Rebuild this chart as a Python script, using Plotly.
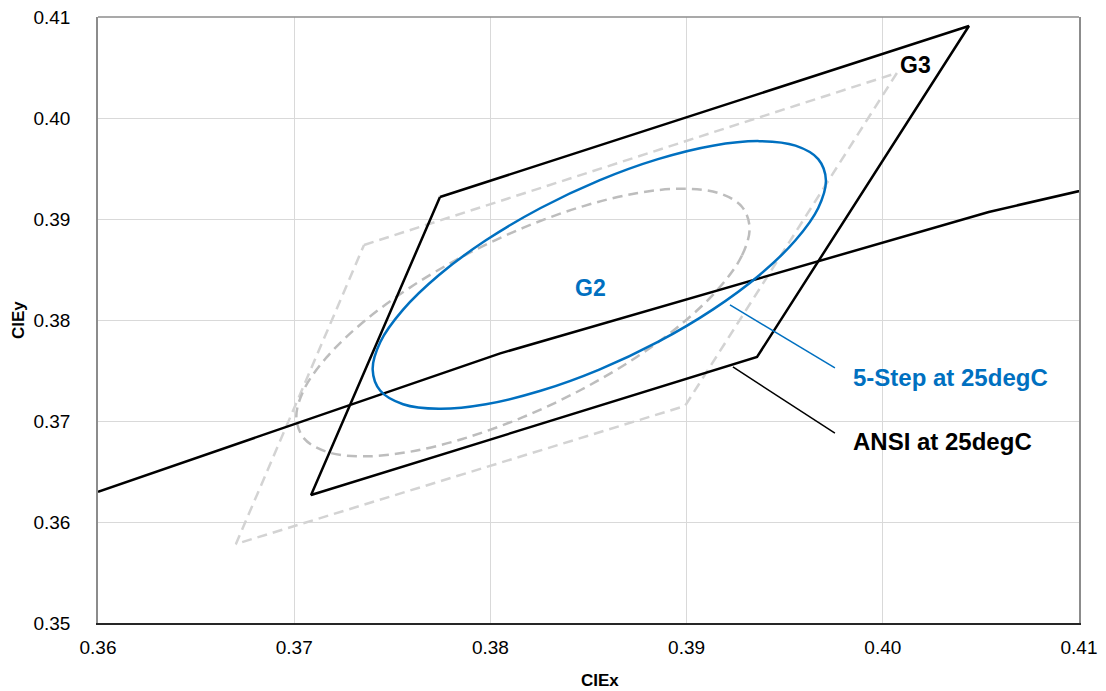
import plotly.graph_objects as go

# ---------------- data ----------------
# ANSI quadrangle at 25degC (black, solid)
ansi_x = [0.37743, 0.40439, 0.39359, 0.37086, 0.37743]
ansi_y = [0.39218, 0.40911, 0.37634, 0.36267, 0.39218]

# shifted quadrangle (light grey, dashed)
ansi_alt_x = [0.37356, 0.40072, 0.38992, 0.36703, 0.37356]
ansi_alt_y = [0.38743, 0.40446, 0.37149, 0.35782, 0.38743]

# black-body locus
locus_x = [0.3600, 0.3805, 0.4054, 0.4150]
locus_y = [0.3630, 0.3767, 0.3907, 0.3950]

# 5-step ellipse at 25degC (blue)
step5_x = [0.39710, 0.39671, 0.39555, 0.39372, 0.39133, 0.38854, 0.38555, 0.38256,
           0.37977, 0.37738, 0.37555, 0.37439, 0.37400, 0.37439, 0.37555, 0.37738,
           0.37977, 0.38256, 0.38555, 0.38854, 0.39133, 0.39372, 0.39555, 0.39671, 0.39710]
step5_y = [0.39383, 0.39109, 0.38789, 0.38446, 0.38103, 0.37783, 0.37509, 0.37299,
           0.37166, 0.37121, 0.37166, 0.37299, 0.37509, 0.37783, 0.38103, 0.38446,
           0.38789, 0.39109, 0.39383, 0.39593, 0.39726, 0.39771, 0.39726, 0.39593, 0.39383]

# shifted ellipse (grey, dashed)
step5_alt_x = [0.39321, 0.39282, 0.39166, 0.38983, 0.38744, 0.38465, 0.38166, 0.37867,
               0.37588, 0.37349, 0.37166, 0.37050, 0.37011, 0.37050, 0.37166, 0.37349,
               0.37588, 0.37867, 0.38166, 0.38465, 0.38744, 0.38983, 0.39166, 0.39282, 0.39321]
step5_alt_y = [0.38912, 0.38638, 0.38318, 0.37975, 0.37632, 0.37312, 0.37038, 0.36828,
               0.36695, 0.36650, 0.36695, 0.36828, 0.37038, 0.37312, 0.37632, 0.37975,
               0.38318, 0.38638, 0.38912, 0.39122, 0.39255, 0.39300, 0.39255, 0.39122, 0.38912]

x_ticks = [0.36, 0.37, 0.38, 0.39, 0.40, 0.41]
x_tick_labels = ["0.36", "0.37", "0.38", "0.39", "0.40", "0.41"]
y_ticks = [0.35, 0.36, 0.37, 0.38, 0.39, 0.40, 0.41]
y_tick_labels = ["0.35", "0.36", "0.37", "0.38", "0.39", "0.40", "0.41"]

# ---------------- styling ----------------
BLUE = "#0070C0"
FONT = "Liberation Sans, Arial, sans-serif"

fig = go.Figure()

fig.add_trace(go.Scatter(x=ansi_alt_x, y=ansi_alt_y, mode="lines",
                         line=dict(color="#d3d3d3", width=2.5, dash="10px,6px"),
                         hoverinfo="skip"))
fig.add_trace(go.Scatter(x=step5_alt_x, y=step5_alt_y, mode="lines",
                         line=dict(color="#bdbdbd", width=2.5, dash="10px,6px",
                                   shape="spline", smoothing=1),
                         hoverinfo="skip"))
fig.add_trace(go.Scatter(x=locus_x, y=locus_y, mode="lines",
                         line=dict(color="black", width=2.5), hoverinfo="skip"))
fig.add_trace(go.Scatter(x=ansi_x, y=ansi_y, mode="lines",
                         line=dict(color="black", width=2.5), hoverinfo="skip"))
fig.add_trace(go.Scatter(x=step5_x, y=step5_y, mode="lines",
                         line=dict(color=BLUE, width=2.5, shape="spline", smoothing=1),
                         hoverinfo="skip"))

# leader lines
fig.add_shape(type="line", xref="x", yref="y", x0=0.39221, y0=0.38149, x1=0.39756, y1=0.37525,
              line=dict(color=BLUE, width=1.5))
fig.add_shape(type="line", xref="x", yref="y", x0=0.39236, y0=0.37535, x1=0.39756, y1=0.36881,
              line=dict(color="black", width=1.5))
# top frame line (grey)
fig.add_shape(type="line", xref="paper", yref="paper", x0=0, y0=1, x1=1, y1=1,
              line=dict(color="#8c8c8c", width=1.5))

# labels
fig.add_annotation(x=0.39838, y=0.37426, text="<b>5-Step at 25degC</b>", showarrow=False,
                   xanchor="left", yanchor="middle", font=dict(family=FONT, size=24, color=BLUE))
fig.add_annotation(x=0.39838, y=0.36802, text="<b>ANSI at 25degC</b>", showarrow=False,
                   xanchor="left", yanchor="middle", font=dict(family=FONT, size=24, color="black"))
fig.add_annotation(x=0.38508, y=0.38317, text="<b>G2</b>", showarrow=False,
                   xanchor="center", yanchor="middle", font=dict(family=FONT, size=23, color=BLUE))
fig.add_annotation(x=0.40169, y=0.40525, text="<b>G3</b>", showarrow=False,
                   xanchor="center", yanchor="middle", font=dict(family=FONT, size=23, color="black"))

# axis titles
fig.add_annotation(xref="paper", yref="paper", x=0.512, y=0, yshift=-57, text="<b>CIEx</b>",
                   showarrow=False, xanchor="center", yanchor="middle",
                   font=dict(family=FONT, size=17, color="black"))
fig.add_annotation(xref="paper", yref="paper", x=0, xshift=-80, y=0.5, text="<b>CIEy</b>",
                   showarrow=False, textangle=-90, xanchor="center", yanchor="middle",
                   font=dict(family=FONT, size=17, color="black"))

fig.update_layout(
    width=1106, height=691,
    margin=dict(l=98, r=27, t=17, b=68),
    paper_bgcolor="white", plot_bgcolor="white",
    showlegend=False,
    font=dict(family=FONT, size=19, color="black"),
    xaxis=dict(range=[0.36, 0.41], tickvals=x_ticks, ticktext=x_tick_labels,
               showgrid=True, gridcolor="#d9d9d9", gridwidth=1,
               showline=True, linecolor="#262626", linewidth=1.5, mirror=False,
               zeroline=False, ticks="", ticklabelstandoff=6, automargin=False,
               tickfont=dict(family=FONT, size=19, color="black")),
    yaxis=dict(range=[0.35, 0.41], tickvals=y_ticks, ticktext=y_tick_labels,
               showgrid=True, gridcolor="#d9d9d9", gridwidth=1,
               showline=True, linecolor="#8c8c8c", linewidth=1.5, mirror=True,
               zeroline=False, ticks="", ticklabelstandoff=22, automargin=False,
               tickfont=dict(family=FONT, size=19, color="black")),
)

fig.write_html("out.html", config={"displayModeBar": False},
               post_script="document.body.style.margin='0';document.body.style.overflow='hidden';")
